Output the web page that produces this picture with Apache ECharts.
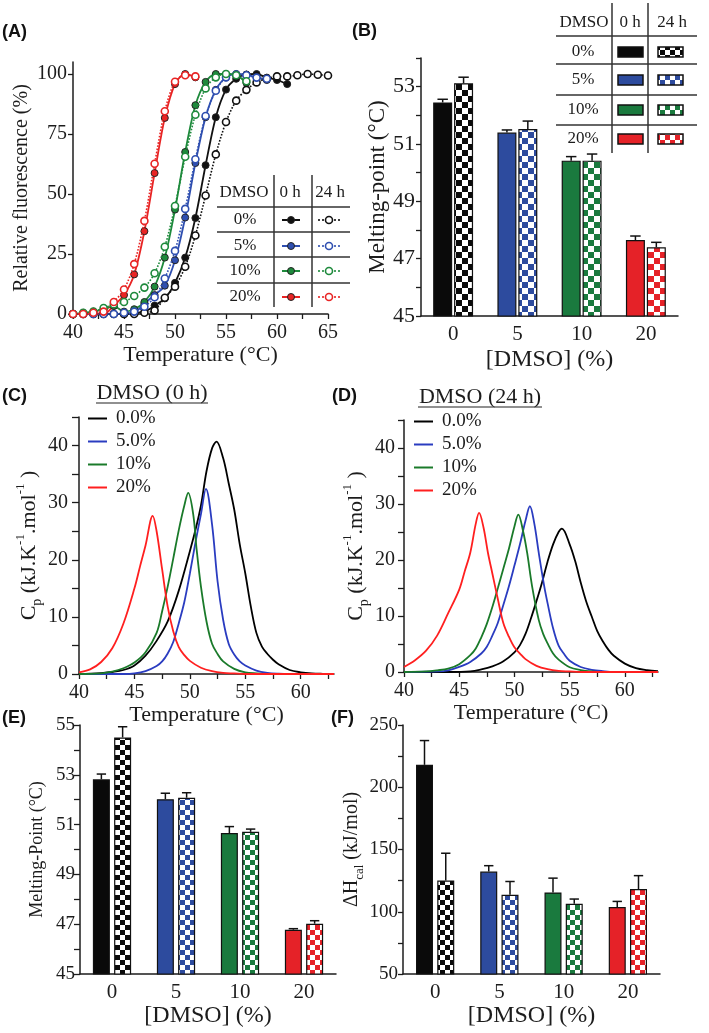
<!DOCTYPE html>
<html><head><meta charset="utf-8">
<script src="https://cdn.jsdelivr.net/npm/echarts@6/dist/echarts.min.js"></script>
<style>html,body{margin:0;padding:0;background:#fff}#c{width:709px;height:1033px}</style>
</head><body><div id="c"></div>
<script>
// ---------- DATA ----------
const dmsoCats = ['0', '5', '10', '20'];
const dmsoLabels = ['0%', '5%', '10%', '20%'];
const cdLegend = ['0.0%', '5.0%', '10%', '20%'];

// Panel A : relative fluorescence (%) vs temperature, points every 1 degC from 40
const tempA = [40,41,42,43,44,45,46,47,48,49,50,51,52,53,54,55,56,57,58,59,60,61,62,63,64,65];
const fl0_0h  = [0,0,0,0,0,0,0.5,1,3.5,6.5,13,23.5,40,62,82,93.5,98,99.8,100,98.5,97.5,95.8];
const fl0_24h = [0,0,0,0,0,0,0,0.5,1.5,6.8,11.4,19.7,32.7,49.4,66.5,80,88.9,93.4,96.5,98,99,99,99.5,100,99.7,99.4];
const fl5_0h  = [0,0,0,0,0,0,0.5,4.4,7.9,11.8,22.4,40.2,62.9,82,93.4,98.6,100,99.7,98.5,97.5];
const fl5_24h = [0,0,0,0,0,0.5,1,3,7,14.8,26.3,43.8,64.5,82.5,93,98.6,99.8,99.5,98.5,98];
const fl10_0h = [0,0.5,1,2,3.3,1,2,5,11.4,23.5,43.5,67.5,87,96.7,100,100,99.5,96.3];
const fl10_24h= [0,0.5,1,2.5,4,5,7.5,11,17,28,45,65.5,83,94,98.6,100,99.5,97];
const fl20_0h = [0,0,0,0,3.5,7.9,16.5,34.5,58.7,81.7,95.8,100,98.6];
const fl20_24h= [0,0,0.5,1,5,10.2,20.8,38.8,62.6,84.5,96.8,99.5,99];

// Panel B : melting point (DSF)
const tmB_0h  = [52.45, 51.40, 50.42, 47.65];
const tmB_0hSd  = [0.11, 0.09, 0.14, 0.14];
const tmB_24h = [53.12, 51.52, 50.42, 47.40];
const tmB_24hSd = [0.21, 0.28, 0.23, 0.17];

// Panel C : Cp curves (0 h)
const cT0  = [40,41,42,43,44,45,46,47,48,49,50,50.5,51,51.5,52,52.4,53,53.5,54,54.5,55,55.5,56,56.5,57,57.5,58,59,60,61,62,63];
const cV0  = [0,0.05,0.15,0.35,0.7,1.5,3.2,5.8,9.2,14.6,21.5,25.2,29.5,35.5,39.5,40.7,37.8,33.4,28.8,22.7,17.6,11.8,7.2,4.8,3.5,2.5,1.7,0.7,0.3,0.1,0.03,0];
const cT5  = [40,44,45,46,47,47.5,48,48.5,49,49.5,50,50.5,51,51.45,52,52.5,53,53.5,54,54.5,55,56,57,58,59,63];
const cV5  = [0,0,0.1,0.5,1.4,2.2,3.6,5.6,8.9,12.6,17.6,23,28,32.4,26.2,16.2,9.5,5.3,3.4,2.2,1.5,0.6,0.2,0.05,0,0];
const cT10 = [40,42,43,44,45,46,47,47.5,48,48.5,49,49.5,49.85,50.3,50.6,51,51.5,52,52.5,53,54,55,56,57,63];
const cV10 = [0,0.1,0.4,1.0,2.0,3.8,7.2,11,15.3,20.2,25.2,29.5,31.7,28,22,15.3,9.2,5.3,3.5,2.2,0.9,0.3,0.1,0,0];
const cT20 = [40,41,42,43,44,45,45.5,46,46.65,47,47.5,48,48.5,49,49.5,50,51,52,53,54,55,63];
const cV20 = [0.3,0.8,2.1,4.5,8.8,15,18.8,22.5,27.7,25,18.3,11.8,7.5,4.7,3.3,2.3,1.1,0.5,0.2,0.1,0,0];

// Panel D : Cp curves (24 h)
const dT0  = [40,44,46,47,48,49,50,50.5,51,51.5,52,52.5,53,53.5,54,54.3,55,55.5,56,56.5,57,57.5,58,58.5,59,60,61,62,63];
const dV0  = [0,0,0.1,0.45,1.0,1.9,3.5,4.8,6.8,9.6,12.7,16,19.7,22.8,25,25.6,22.8,19.8,16,12.6,9.9,7.3,5.5,4.0,2.9,1.5,0.7,0.35,0.15];
const dT5  = [40,43,44,45,46,47,47.5,48,48.5,49,49.5,50,50.5,51,51.4,51.8,52.2,52.7,53,53.5,54,54.5,55,56,57,58,59,63];
const dV5  = [0,0.1,0.3,0.9,1.8,3.3,4.5,6.5,8.8,12,15.3,19,22.8,27,29.6,26.5,21.3,15.3,12.3,7.8,4.7,3.2,2.0,0.9,0.4,0.15,0,0];
const dT10 = [40,42,43,44,45,46,46.5,47,47.5,48,48.5,49,49.5,50,50.35,50.8,51.15,51.6,52.2,52.6,53,53.5,54,55,56,57,58,63];
const dV10 = [0,0.1,0.3,0.6,1.4,3.0,4.2,6.2,8.6,11.6,15,18.5,22,26,28.1,25,21.3,15.3,9.3,6.8,5.1,3.3,2.2,0.85,0.35,0.1,0,0];
const dT20 = [40,41,42,43,44,45,45.5,46,46.5,46.8,47.2,47.6,48,48.5,49,49.5,50,50.5,51,52,53,54,55,56,63];
const dV20 = [0.9,2.1,3.8,6.5,10.5,14.7,18,21.3,26.5,28.4,25.8,21.3,17.6,13,8.7,6.3,4.4,3.3,2.3,1.1,0.5,0.2,0.1,0,0];

// Panel E : melting point (DSC)
const tmE_0h  = [52.82, 52.02, 50.66, 46.78];
const tmE_0hSd  = [0.21, 0.24, 0.26, 0.04];
const tmE_24h = [54.50, 52.08, 50.71, 47.02];
const tmE_24hSd = [0.43, 0.20, 0.11, 0.12];

// Panel F : calorimetric enthalpy
const dhF_0h  = [218, 132.3, 115.5, 103.8];
const dhF_0hSd  = [19.5, 4.7, 11.5, 4.5];
const dhF_24h = [125.1, 113.6, 106.4, 118.2];
const dhF_24hSd = [21.9, 10.7, 3.8, 10.8];

// axis tick values
const tickA_y = [0, 25, 50, 75, 100];
const tickCD_x = [40, 42.5, 45, 47.5, 50, 52.5, 55, 57.5, 60, 62.5];
const labCD_x = [40, 45, 50, 55, 60];

// ---------- STYLE ----------
const SERIF = "'Liberation Serif','Times New Roman',serif";
const SANS = "'Liberation Sans',Arial,sans-serif";
const INK = '#1c1c1c';
const colA = ['#111111', '#2f4fb0', '#1e8a3c', '#e82424'];
const colCD = ['#000000', '#2a3cc0', '#1a7a2a', '#ff1f1f'];
const colBar = ['#0a0a0a', '#2d4b9e', '#1a7a3e', '#e52228'];

function checker(color, cell) {
  const c = document.createElement('canvas');
  c.width = c.height = cell * 2;
  const g = c.getContext('2d');
  g.fillStyle = '#ffffff'; g.fillRect(0, 0, cell * 2, cell * 2);
  g.fillStyle = color; g.fillRect(0, 0, cell, cell); g.fillRect(cell, cell, cell, cell);
  return { image: c, repeat: 'repeat' };
}

const axLine = { show: true, onZero: false, lineStyle: { color: INK, width: 1.5 } };
function tick(len) { return { show: true, length: len, lineStyle: { color: INK, width: 1.3 } }; }
function lab(size, margin, extra) { return Object.assign({ color: INK, fontFamily: SERIF, fontSize: size, margin: margin }, extra || {}); }

// ---------- AXES ----------
const grids = [
  { left: 73, top: 62, width: 255, height: 252 },   // A
  { left: 421, top: 58, width: 257, height: 258 },  // B
  { left: 79, top: 417, width: 255, height: 257 },  // C
  { left: 404, top: 420, width: 254, height: 252 }, // D
  { left: 80, top: 725, width: 256, height: 249 },  // E
  { left: 403, top: 725, width: 257, height: 249 }  // F
];

const catAxis = (gi, nameGap) => ({
  type: 'category', gridIndex: gi, data: dmsoCats,
  axisLine: axLine, axisTick: { show: false },
  axisLabel: lab(21, 8),
  name: '[DMSO] (%)', nameLocation: 'middle', nameGap: nameGap,
  nameTextStyle: { fontFamily: SERIF, fontSize: 24, color: INK }
});

const tempAxis = (gi, max, nameGap, tickVals, labVals) => ({
  type: 'value', gridIndex: gi, min: 40, max: max, interval: 2.5,
  axisLine: axLine,
  axisTick: Object.assign(tick(5), tickVals ? { customValues: tickVals } : {}),
  axisLabel: lab(20, 9, Object.assign({
    formatter: v => (v % 5 === 0 ? String(v) : '')
  }, labVals ? { customValues: labVals } : {})),
  splitLine: { show: false },
  name: 'Temperature (°C)', nameLocation: 'middle', nameGap: nameGap,
  nameTextStyle: { fontFamily: SERIF, fontSize: 22, color: INK }
});

const xAxes = [
  tempAxis(0, 65, 29, null, null),
  catAxis(1, 32),
  tempAxis(2, 63, 30, tickCD_x, labCD_x),
  tempAxis(3, 63, 28, tickCD_x, labCD_x),
  catAxis(4, 29),
  catAxis(5, 29)
];

const cpRich = {
  a: { fontFamily: SERIF, fontSize: 22, color: INK, lineHeight: 30 },
  sub: { fontFamily: SERIF, fontSize: 14, color: INK, lineHeight: 14, verticalAlign: 'bottom' },
  sup: { fontFamily: SERIF, fontSize: 13, color: INK, lineHeight: 13, verticalAlign: 'top' }
};
const cpName = '{a|C}{sub|p}{a| (kJ.K}{sup|-1}{a|.mol}{sup|-1}{a| )}';

const yAxes = [
  { type: 'value', gridIndex: 0, min: 0, max: 105, interval: 25,
    axisLine: axLine, axisTick: Object.assign(tick(5), { customValues: tickA_y }),
    axisLabel: lab(20, 6, { customValues: tickA_y, formatter: v => (v <= 100 && v % 25 === 0 ? String(v) : '') }),
    splitLine: { show: false },
    name: 'Relative fluorescence (%)', nameLocation: 'middle', nameGap: 41,
    nameTextStyle: { fontFamily: SERIF, fontSize: 20, color: INK } },
  { type: 'value', gridIndex: 1, min: 45, max: 54, interval: 1,
    axisLine: axLine, axisTick: tick(5),
    axisLabel: lab(22, 6, { formatter: v => (v % 2 === 1 ? String(v) : '') }),
    splitLine: { show: false },
    name: 'Melting-point (°C)', nameLocation: 'middle', nameGap: 25,
    nameTextStyle: { fontFamily: SERIF, fontSize: 23, color: INK } },
  { type: 'value', gridIndex: 2, min: 0, max: 45, interval: 5,
    axisLine: axLine, axisTick: tick(7),
    axisLabel: lab(20, 11, { formatter: v => (v % 10 === 0 ? String(v) : '') }),
    splitLine: { show: false },
    name: cpName, nameLocation: 'middle', nameGap: 31,
    nameTextStyle: { rich: cpRich } },
  { type: 'value', gridIndex: 3, min: 0, max: 45, interval: 5,
    axisLine: axLine, axisTick: tick(6),
    axisLabel: lab(20, 9, { formatter: v => (v % 10 === 0 ? String(v) : '') }),
    splitLine: { show: false },
    name: cpName, nameLocation: 'middle', nameGap: 31,
    nameTextStyle: { rich: cpRich } },
  { type: 'value', gridIndex: 4, min: 45, max: 55, interval: 1,
    axisLine: axLine, axisTick: tick(6),
    axisLabel: lab(19, 5, { formatter: v => (v % 2 === 1 ? String(v) : '') }),
    splitLine: { show: false },
    name: 'Melting-Point (°C)', nameLocation: 'middle', nameGap: 34,
    nameTextStyle: { fontFamily: SERIF, fontSize: 18, color: INK } },
  { type: 'value', gridIndex: 5, min: 50, max: 250, interval: 25,
    axisLine: axLine, axisTick: tick(5),
    axisLabel: lab(19, 5, { formatter: v => (v % 50 === 0 ? String(v) : '') }),
    splitLine: { show: false },
    name: '{a|ΔH}{sub|cal}{a| (kJ/mol)}', nameLocation: 'middle', nameGap: 31,
    nameTextStyle: { rich: {
      a: { fontFamily: SERIF, fontSize: 20, color: INK, lineHeight: 28 },
      sub: { fontFamily: SERIF, fontSize: 13, color: INK, lineHeight: 13, verticalAlign: 'bottom' } } } }
];

// ---------- SERIES ----------
const series = [];

// Panel A
const aSets = [[fl0_0h, fl0_24h], [fl5_0h, fl5_24h], [fl10_0h, fl10_24h], [fl20_0h, fl20_24h]];
aSets.forEach((pair, i) => {
  const c = colA[i];
  series.push({
    type: 'line', name: 'A ' + dmsoLabels[i] + ' 0 h', xAxisIndex: 0, yAxisIndex: 0,
    data: pair[0].map((v, j) => [tempA[j], v]), smooth: 0.3,
    symbol: 'circle', symbolSize: 7,
    lineStyle: { color: c, width: 1.8 },
    itemStyle: { color: c, borderColor: '#222', borderWidth: 1 }, z: 3
  });
  series.push({
    type: 'line', name: 'A ' + dmsoLabels[i] + ' 24 h', xAxisIndex: 0, yAxisIndex: 0,
    data: pair[1].map((v, j) => [tempA[j], v]), smooth: 0.3,
    symbol: 'circle', symbolSize: 7,
    lineStyle: { color: c, width: 1.6, type: 'dotted' },
    itemStyle: { color: '#ffffff', borderColor: c, borderWidth: 1.6 }, z: 4
  });
});

// Panels C and D
const cSets = [[cT0, cV0], [cT5, cV5], [cT10, cV10], [cT20, cV20]];
const dSets = [[dT0, dV0], [dT5, dV5], [dT10, dV10], [dT20, dV20]];
[[cSets, 2], [dSets, 3]].forEach(([sets, ax]) => {
  sets.forEach((s, i) => {
    series.push({
      type: 'line', name: cdLegend[i], xAxisIndex: ax, yAxisIndex: ax,
      data: s[1].map((v, j) => [s[0][j], v]), smooth: 0.35, symbol: 'none',
      lineStyle: { color: colCD[i], width: 1.8 }, itemStyle: { color: colCD[i] }
    });
  });
});

// Bar panels
function barPanel(ax, v0, sd0, v24, sd24, bw, gapPct, cell) {
  series.push({
    type: 'bar', name: 'bar0_' + ax, xAxisIndex: ax, yAxisIndex: ax,
    barWidth: bw, barGap: gapPct + '%',
    data: v0.map((v, i) => ({ value: v, itemStyle: { color: colBar[i] } })),
    itemStyle: { borderColor: '#111', borderWidth: 1.2 }
  });
  series.push({
    type: 'bar', name: 'bar24_' + ax, xAxisIndex: ax, yAxisIndex: ax,
    barWidth: bw, barGap: gapPct + '%',
    data: v24.map((v, i) => ({ value: v, itemStyle: { color: checker(colBar[i], cell) } })),
    itemStyle: { borderColor: '#111', borderWidth: 1.2 }
  });
  const off = bw * (1 + gapPct / 100) / 2;
  [[v0, sd0, -off], [v24, sd24, off]].forEach(([vals, sds, o]) => {
    series.push({
      type: 'custom', xAxisIndex: ax, yAxisIndex: ax, z: 6,
      data: vals.map((v, i) => [i, v, v + sds[i]]),
      renderItem: (params, api) => {
        const p0 = api.coord([api.value(0), api.value(1)]);
        const p1 = api.coord([api.value(0), api.value(2)]);
        const x = p0[0] + o;
        const cap = bw * 0.55;
        return { type: 'group', children: [
          { type: 'line', shape: { x1: x, y1: p0[1], x2: x, y2: p1[1] }, style: { stroke: '#111', lineWidth: 1.5 } },
          { type: 'line', shape: { x1: x - cap / 2, y1: p1[1], x2: x + cap / 2, y2: p1[1] }, style: { stroke: '#111', lineWidth: 1.5 } }
        ] };
      }
    });
  });
}
barPanel(1, tmB_0h, tmB_0hSd, tmB_24h, tmB_24hSd, 19, 10, 6);
barPanel(4, tmE_0h, tmE_0hSd, tmE_24h, tmE_24hSd, 17, 25, 5);
barPanel(5, dhF_0h, dhF_0hSd, dhF_24h, dhF_24hSd, 17, 25, 5);

// ---------- GRAPHIC (panel letters, tables, titles) ----------
const gfx = [];
function txt(x, y, text, size, o) {
  o = o || {};
  const font = (o.bold ? 'bold ' : '') + size + 'px ' + (o.family || SERIF);
  gfx.push({ type: 'text', x: x, y: y, z: 50, style: {
    text: text, font: font, fill: o.fill || INK,
    textAlign: o.align || 'center', textVerticalAlign: 'middle',
    align: o.align || 'center', verticalAlign: 'middle' } });
}
function ln(x1, y1, x2, y2, o) {
  o = o || {};
  gfx.push({ type: 'line', z: 50, shape: { x1, y1, x2, y2 },
    style: { stroke: o.stroke || '#333', lineWidth: o.w || 1.5, lineDash: o.dash || null } });
}
function circ(cx, cy, r, fill, stroke, w) {
  gfx.push({ type: 'circle', z: 51, shape: { cx, cy, r }, style: { fill: fill, stroke: stroke, lineWidth: w } });
}
function rect(x, y, w, h, fill) {
  gfx.push({ type: 'rect', z: 51, shape: { x, y, width: w, height: h }, style: { fill: fill, stroke: '#111', lineWidth: 1.5 } });
}

// panel letters
[['(A)', 2, 32], ['(B)', 352, 31], ['(C)', 2, 396], ['(D)', 332, 396], ['(E)', 2, 718], ['(F)', 331, 718]]
  .forEach(([t, x, y]) => txt(x, y, t, 18, { bold: true, family: SANS, align: 'left', fill: '#111' }));

// table A
ln(274, 175, 274, 307); ln(312, 175, 312, 307);
[207, 232, 257, 283].forEach(y => ln(217, y, 350, y));
txt(244, 193, 'DMSO', 17); txt(290, 193, '0 h', 17); txt(330, 193, '24 h', 17);
[220, 246, 271, 297].forEach((y, i) => {
  txt(245, y, dmsoLabels[i], 17);
  ln(282, y, 300, y, { stroke: colA[i], w: 2 });
  circ(291, y, 3.5, colA[i], '#222', 1);
  ln(318, y, 340, y, { stroke: colA[i], w: 1.6, dash: [2, 2] });
  circ(329, y, 3.5, '#fff', colA[i], 1.6);
});

// table B
ln(612, 3, 612, 153); ln(648, 3, 648, 153);
[36, 64, 95, 125].forEach(y => ln(556, y, 697, y));
txt(584, 23, 'DMSO', 17); txt(630, 23, '0 h', 17); txt(672, 23, '24 h', 17);
[52, 80, 110, 139].forEach((y, i) => {
  txt(583, y, dmsoLabels[i], 17);
  rect(618, y - 5, 25, 10, colBar[i]);
  rect(658, y - 5, 25, 10, checker(colBar[i], 5));
});

// titles C / D
txt(152, 393, 'DMSO (0 h)', 22);
ln(96, 403, 208, 403, { stroke: '#222', w: 1.2 });
txt(480, 397, 'DMSO (24 h)', 22);
ln(418, 407, 542, 407, { stroke: '#222', w: 1.2 });

// ---------- OPTION ----------
const legendStyle = (left, top) => ({
  left: left, top: top, orient: 'vertical', padding: 0, itemGap: 4,
  icon: 'rect', itemWidth: 19, itemHeight: 2, selectedMode: false,
  data: cdLegend,
  textStyle: { fontFamily: SERIF, fontSize: 19, color: INK, lineHeight: 19, padding: [0, 0, 0, 4] }
});

const chart = echarts.init(document.getElementById('c'), null, { renderer: 'canvas' });
chart.setOption({
  backgroundColor: '#ffffff',
  animation: false,
  grid: grids,
  xAxis: xAxes,
  yAxis: yAxes,
  legend: [legendStyle(88, 409), legendStyle(414, 412)],
  series: series,
  graphic: gfx
});
</script></body></html>
